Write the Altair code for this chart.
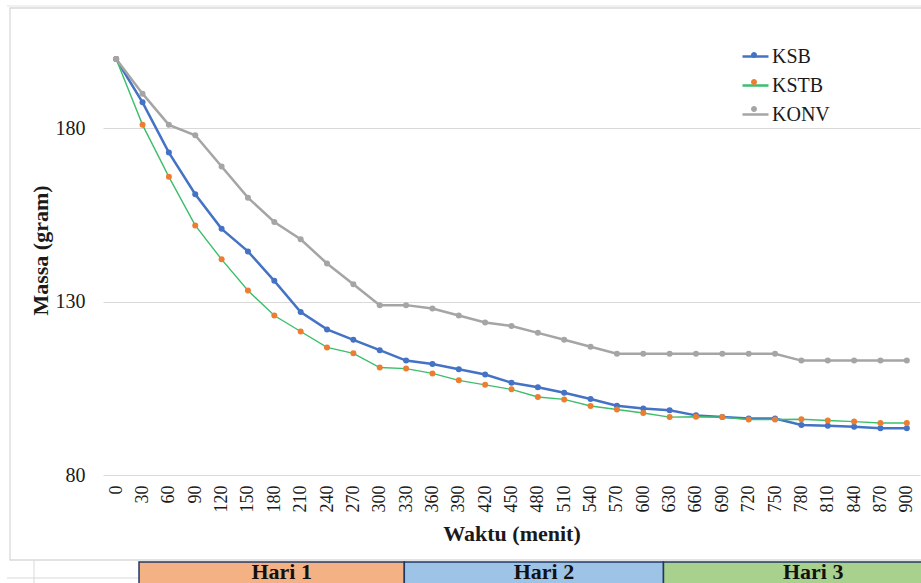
import altair as alt
import pandas as pd

minutes = [0, 30, 60, 90, 120, 150, 180, 210, 240, 270, 300, 330, 360, 390, 420,
           450, 480, 510, 540, 570, 600, 630, 660, 690, 720, 750, 780, 810, 840, 870, 900]
ksb = [200, 187.5, 173, 161, 151, 144.5, 136, 127, 122, 119, 116, 113, 112, 110.5, 109,
       106.6, 105.3, 103.7, 101.9, 100, 99.2, 98.7, 97.2, 96.7, 96.3, 96.3, 94.4, 94.2, 93.9, 93.5, 93.5]
kstb = [200, 181, 166, 152, 142.2, 133.2, 126, 121.4, 116.8, 115.1, 111, 110.7, 109.3, 107.3, 106,
        104.7, 102.5, 101.8, 99.9, 98.9, 97.9, 96.7, 96.8, 96.7, 96, 96, 96.1, 95.7, 95.4, 95, 95]
konv = [200, 190, 181, 178, 169, 160, 153, 148, 141, 135, 129, 129, 128, 126, 124,
        123, 121, 119, 117, 115, 115, 115, 115, 115, 115, 115, 113, 113, 113, 113, 113]
y_ticks = [80, 130, 180]

series_names = ["KSB", "KSTB", "KONV"]
line_colors = ["#4472C4", "#3CBE6C", "#A5A5A5"]
point_colors = ["#4472C4", "#ED7D31", "#A5A5A5"]
line_widths = [2.5, 1.4, 2.5]

hari_labels = ["Hari 1", "Hari  2", "Hari 3"]
hari_start = [26, 328, 623]
hari_end = [328, 623, 941]
hari_colors = ["#F4B183", "#9DC3E6", "#A9D18E"]

rows = []
for name, vals in zip(series_names, [ksb, kstb, konv]):
    for m, v in zip(minutes, vals):
        rows.append({"minute": m, "massa": v, "series": name})
df = pd.DataFrame(rows)

hari_df = pd.DataFrame({"label": hari_labels, "start": hari_start,
                        "end": hari_end, "color": hari_colors})

FONT = "Liberation Serif"
W, H = 817, 416

xscale = alt.Scale(domain=[-15, 915], nice=False, zero=False)
yscale = alt.Scale(domain=[80, 200], nice=False, zero=False)

ax_x = alt.Axis(values=minutes, labelAngle=-90, grid=False, ticks=False,
                domain=False, labelFont=FONT, labelFontSize=18,
                labelColor="#1a1a1a", labelPadding=10, labelOverlap=False,
                labelFlush=False, title="Waktu (menit)", titleFont=FONT,
                titleFontSize=22, titleFontWeight="bold", titleColor="#1a1a1a",
                titleY=65, titleBaseline="alphabetic")
ax_y = alt.Axis(values=y_ticks, grid=True, gridColor="#D9D9D9", gridWidth=1,
                ticks=False, domain=False, labelFont=FONT, labelFontSize=20,
                labelColor="#1a1a1a", labelPadding=18, labelOverlap=False,
                title="Massa (gram)", titleFont=FONT, titleFontSize=22,
                titleFontWeight="bold", titleColor="#1a1a1a",
                titleX=-56, titleY=191, titleBaseline="alphabetic",
                titleAlign="center", titleAngle=-90)

x_enc = alt.X("minute:Q", scale=xscale, axis=ax_x, title="Waktu (menit)")
y_enc = alt.Y("massa:Q", scale=yscale, axis=ax_y, title="Massa (gram)")

base = alt.Chart(df)

lines = base.mark_line(clip=False).encode(
    x=x_enc,
    y=y_enc,
    color=alt.Color("series:N",
                    scale=alt.Scale(domain=series_names, range=line_colors),
                    sort=series_names,
                    legend=alt.Legend(orient="none", legendX=638, legendY=-17, title=None,
                                      symbolType="stroke", symbolSize=676,
                                      symbolStrokeWidth=2.5, labelFont=FONT,
                                      labelFontSize=20, labelColor="#1a1a1a",
                                      labelOffset=2, rowPadding=4)),
    strokeWidth=alt.StrokeWidth("series:N",
                                scale=alt.Scale(type="ordinal", domain=series_names,
                                                range=line_widths),
                                legend=None),
    order=alt.Order("minute:Q"),
)

circle_path = "M-0.23,0A0.23,0.23,0,1,1,0.23,0A0.23,0.23,0,1,1,-0.23,0Z"
points = base.mark_point(shape="circle", filled=True, size=36, strokeWidth=0,
                         opacity=1, clip=False).encode(
    x=x_enc,
    y=y_enc,
    fill=alt.Fill("series:N",
                  scale=alt.Scale(domain=series_names, range=point_colors),
                  sort=series_names,
                  legend=alt.Legend(orient="none", legendX=638, legendY=-17, title=None,
                                    symbolType=circle_path, symbolSize=676,
                                    symbolStrokeWidth=0, symbolOpacity=1,
                                    labelExpr="' '", labelFont=FONT, labelFontSize=20,
                                    labelOffset=2, rowPadding=4)),
)

one = pd.DataFrame({"a": [0]})
border = alt.Chart(one).mark_rect(fillOpacity=0, stroke="#D9D9D9", strokeWidth=1.3).encode(
    x=alt.value(-93), x2=alt.value(840), y=alt.value(-51), y2=alt.value(501))
topline = alt.Chart(one).mark_rule(color="#E3E3E3", strokeWidth=1).encode(
    x=alt.value(-96), x2=alt.value(840), y=alt.value(-53))
cell_h = alt.Chart(one).mark_rule(color="#D9D9D9", strokeWidth=1).encode(
    x=alt.value(-96), x2=alt.value(36), y=alt.value(519))
cell_v = alt.Chart(one).mark_rule(color="#D9D9D9", strokeWidth=1).encode(
    x=alt.value(-69), y=alt.value(501), y2=alt.value(530))

hari_boxes = alt.Chart(hari_df).mark_rect(stroke="#203864", strokeWidth=1.5, clip=False).encode(
    x=alt.X("start:Q", scale=xscale, axis=ax_x, title="Waktu (menit)"), x2="end:Q",
    y=alt.value(503), y2=alt.value(540),
    fill=alt.Fill("color:N", scale=None),
)
hari_text = alt.Chart(hari_df).transform_calculate(
    mid="(datum.start + datum.end) / 2"
).mark_text(font=FONT, fontSize=22, fontWeight="bold", color="#111111",
            baseline="alphabetic", align="center", dx=10, clip=False).encode(
    x=alt.X("mid:Q", scale=xscale, axis=ax_x, title="Waktu (menit)"),
    y=alt.value(520), text="label:N")

chart = alt.layer(border, topline, cell_h, cell_v, hari_boxes, hari_text, lines, points).resolve_scale(
    color="independent", fill="independent"
).properties(
    width=W, height=H,
    autosize=alt.AutoSizeParams(type="none"),
    padding={"left": 103, "top": 59, "right": 1, "bottom": 108},
    background="white",
).configure_view(stroke=None).configure_axisX(labelOverlap=False)

chart.save("out.html", embed_options={"renderer": "svg", "actions": False})
